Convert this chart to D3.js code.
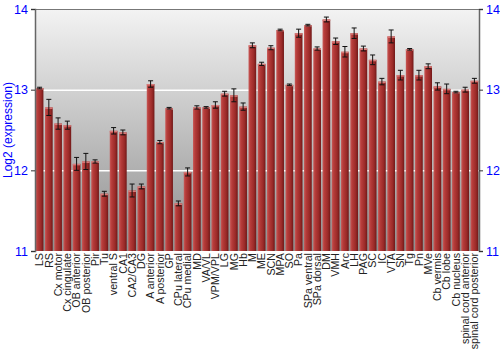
<!DOCTYPE html>
<html>
<head>
<meta charset="utf-8">
<script src="https://cdn.jsdelivr.net/npm/d3@7"></script>
<style>
  body { margin: 0; background: #fff; }
  svg { font-family: "Liberation Sans", Arial, sans-serif; }
</style>
</head>
<body>
<div id="chart"></div>
<script>
'use strict';

var regions = ['LS', 'RS', 'Cx motor', 'Cx cingulate', 'OB anterior', 'OB posterior', 'Pir', 'Tu',
  'ventral S', 'CA1', 'CA2/CA3', 'DG', 'A anterior', 'A posterior', 'GP', 'CPu lateral', 'CPu medial',
  'MD', 'VA/VL', 'VPM/VPL', 'LG', 'MG', 'Hb', 'M', 'ME', 'SCN', 'MPA', 'SO', 'Pa', 'SPa ventral',
  'SPa dorsal', 'DM', 'VMH', 'Arc', 'LH', 'PAG', 'SC', 'IC', 'VTA', 'SN', 'Tg', 'Pn', 'MVe',
  'Cb vermis', 'Cb lobe', 'Cb nucleus', 'spinal cord anterior', 'spinal cord posterior'];

var expression = [13.02, 12.78, 12.58, 12.56, 12.08, 12.11, 12.11, 11.71,
  12.49, 12.47, 11.75, 11.80, 13.07, 12.35, 12.77, 11.59, 11.98,
  12.78, 12.78, 12.81, 12.95, 12.93, 12.79, 13.55, 13.32, 13.52, 13.74, 13.06, 13.70, 13.80,
  13.51, 13.87, 13.60, 13.47, 13.70, 13.51, 13.37, 13.10, 13.66, 13.18, 13.50, 13.18, 13.29,
  13.04, 13.01, 12.97, 13.00, 13.11];

var stdErr = [0.01, 0.10, 0.07, 0.05, 0.08, 0.10, 0.02, 0.03,
  0.04, 0.03, 0.08, 0.03, 0.04, 0.02, 0.01, 0.03, 0.05,
  0.02, 0.01, 0.04, 0.03, 0.08, 0.045, 0.03, 0.02, 0.025, 0.01, 0.01, 0.05, 0.01,
  0.02, 0.03, 0.04, 0.065, 0.065, 0.03, 0.06, 0.04, 0.08, 0.06, 0.01, 0.06, 0.03,
  0.045, 0.06, 0.01, 0.03, 0.03];

var yTicks = [11, 12, 13, 14];

var w = 500, h = 350;
var margin = { top: 9, right: 21, bottom: 99, left: 35 };
var innerW = w - margin.left - margin.right;
var innerH = h - margin.top - margin.bottom;

var svg = d3.select('#chart')
  .append('svg')
  .attr('width', w)
  .attr('height', h);

var defs = svg.append('defs');

var bg = defs.append('linearGradient')
  .attr('id', 'bgGrad')
  .attr('x1', 0).attr('y1', 0).attr('x2', 0).attr('y2', 1);
bg.append('stop').attr('offset', '0%').attr('stop-color', '#f3f3f3');
bg.append('stop').attr('offset', '100%').attr('stop-color', '#8e8e8e');

var barGrad = defs.append('linearGradient')
  .attr('id', 'barGrad')
  .attr('x1', 0).attr('y1', 0).attr('x2', 1).attr('y2', 0);
barGrad.append('stop').attr('offset', '0%').attr('stop-color', '#c85a58');
barGrad.append('stop').attr('offset', '25%').attr('stop-color', '#b63c3a');
barGrad.append('stop').attr('offset', '70%').attr('stop-color', '#9a2a28');
barGrad.append('stop').attr('offset', '100%').attr('stop-color', '#701818');

var g = svg.append('g')
  .attr('transform', 'translate(' + margin.left + ',' + margin.top + ')');

var x = d3.scaleBand()
  .domain(regions)
  .range([0, innerW])
  .paddingInner(0.17)
  .paddingOuter(0.08);

var y = d3.scaleLinear()
  .domain([11, 14])
  .range([innerH, 0]);

// background
g.append('rect')
  .attr('width', innerW)
  .attr('height', innerH)
  .attr('fill', 'url(#bgGrad)');

// grid lines
g.selectAll('.grid')
  .data(yTicks.filter(function (t) { return t > 11 && t < 14; }))
  .enter().append('line')
  .attr('x1', 0)
  .attr('x2', innerW)
  .attr('y1', function (d) { return y(d) + 0.5; })
  .attr('y2', function (d) { return y(d) + 0.5; })
  .attr('stroke', '#ffffff')
  .attr('stroke-width', 1.5);

var data = regions.map(function (r, i) {
  return { name: r, value: expression[i], err: stdErr[i] };
});

// bars
g.selectAll('.bar')
  .data(data)
  .enter().append('rect')
  .attr('x', function (d) { return x(d.name); })
  .attr('y', function (d) { return y(d.value); })
  .attr('width', x.bandwidth())
  .attr('height', function (d) { return innerH - y(d.value); })
  .attr('fill', 'url(#barGrad)');

// bar top highlight
g.selectAll('.cap')
  .data(data)
  .enter().append('rect')
  .attr('x', function (d) { return x(d.name); })
  .attr('y', function (d) { return y(d.value); })
  .attr('width', x.bandwidth())
  .attr('height', 1.5)
  .attr('fill', '#d87a78');

// error bars
var eb = g.selectAll('.err')
  .data(data)
  .enter().append('g')
  .attr('stroke', '#111')
  .attr('stroke-width', 1);

eb.append('line')
  .attr('x1', function (d) { return x(d.name) + x.bandwidth() / 2; })
  .attr('x2', function (d) { return x(d.name) + x.bandwidth() / 2; })
  .attr('y1', function (d) { return y(d.value + d.err); })
  .attr('y2', function (d) { return y(d.value - d.err); });

eb.append('line')
  .attr('x1', function (d) { return x(d.name) + x.bandwidth() / 2 - 2.5; })
  .attr('x2', function (d) { return x(d.name) + x.bandwidth() / 2 + 2.5; })
  .attr('y1', function (d) { return y(d.value + d.err); })
  .attr('y2', function (d) { return y(d.value + d.err); });

eb.append('line')
  .attr('x1', function (d) { return x(d.name) + x.bandwidth() / 2 - 2.5; })
  .attr('x2', function (d) { return x(d.name) + x.bandwidth() / 2 + 2.5; })
  .attr('y1', function (d) { return y(d.value - d.err); })
  .attr('y2', function (d) { return y(d.value - d.err); });

// frame top
g.append('line')
  .attr('x1', 0).attr('x2', innerW)
  .attr('y1', 0.5).attr('y2', 0.5)
  .attr('stroke', '#777');

// axes
var yLeft = g.append('g')
  .call(d3.axisLeft(y).tickValues(yTicks).tickSize(4).tickFormat(d3.format('d')));
var yRight = g.append('g')
  .attr('transform', 'translate(' + innerW + ',0)')
  .call(d3.axisRight(y).tickValues(yTicks).tickSize(4).tickFormat(d3.format('d')));

[yLeft, yRight].forEach(function (ax) {
  ax.select('.domain').attr('stroke', '#666').attr('stroke-width', 1.5);
  ax.selectAll('.tick line').attr('stroke', '#333');
  ax.selectAll('.tick text')
    .attr('fill', '#0000ff')
    .style('font-size', '12.5px');
});

// x labels
var xAxis = g.append('g')
  .attr('transform', 'translate(0,' + innerH + ')')
  .call(d3.axisBottom(x).tickSize(0));
xAxis.select('.domain').remove();
xAxis.selectAll('.tick text')
  .attr('transform', 'rotate(-90)')
  .attr('x', -2)
  .attr('y', 0)
  .attr('dy', '0.35em')
  .attr('text-anchor', 'end')
  .attr('fill', '#222')
  .style('font-size', '10.7px');

// y label
svg.append('text')
  .attr('transform', 'translate(8,' + (margin.top + innerH / 2) + ') rotate(-90)')
  .attr('text-anchor', 'middle')
  .attr('dy', '0.35em')
  .attr('fill', '#0000ff')
  .style('font-size', '12px')
  .text('Log2 (expression)');
</script>
</body>
</html>
